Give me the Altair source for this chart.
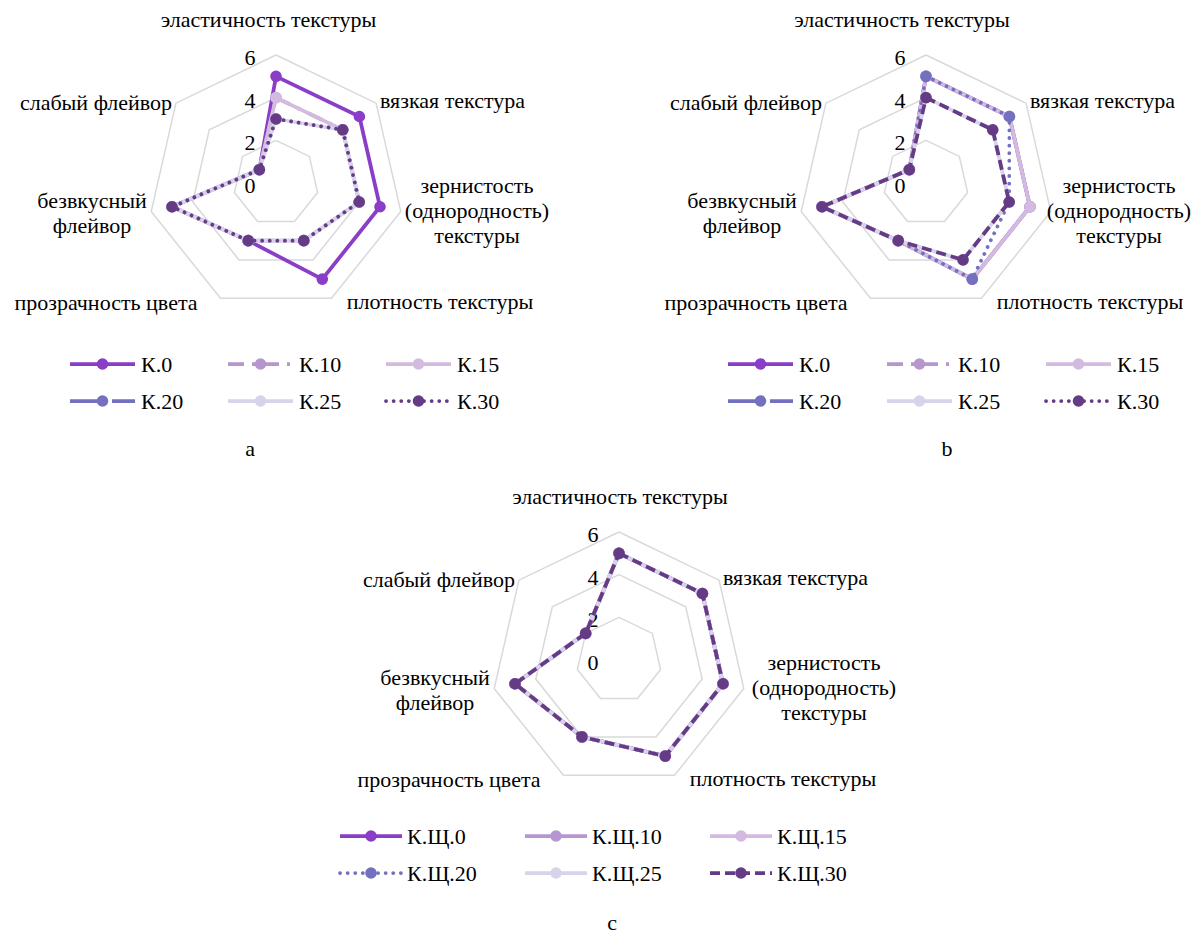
import math
import altair as alt
import pandas as pd

# ---------------- data ----------------
category_lines = [
    ["эластичность текстуры"],
    ["вязкая текстура"],
    ["зернистость", "(однородность)", "текстуры"],
    ["плотность текстуры"],
    ["прозрачность цвета"],
    ["безвкусный", "флейвор"],
    ["слабый флейвор"],
]
tick_values = [0, 2, 4, 6]

series_ab = ["К.0", "К.10", "К.15", "К.20", "К.25", "К.30"]
series_c = ["К.Щ.0", "К.Щ.10", "К.Щ.15", "К.Щ.20", "К.Щ.25", "К.Щ.30"]

values_a = [
    [5, 5, 5, 5, 3, 5, 1],   # К.0
    [4, 4, 4, 3, 3, 5, 1],   # К.10
    [4, 4, 4, 3, 3, 5, 1],   # К.15
    [3, 4, 4, 3, 3, 5, 1],   # К.20
    [3, 4, 4, 3, 3, 5, 1],   # К.25
    [3, 4, 4, 3, 3, 5, 1],   # К.30
]
values_b = [
    [5, 5, 5, 5, 3, 5, 1],   # К.0
    [5, 5, 5, 5, 3, 5, 1],   # К.10
    [5, 5, 5, 5, 3, 5, 1],   # К.15
    [5, 5, 4, 5, 3, 5, 1],   # К.20
    [4, 4, 4, 4, 3, 5, 1],   # К.25
    [4, 4, 4, 4, 3, 5, 1],   # К.30
]
values_c = [
    [5, 5, 5, 5, 4, 5, 2],   # К.Щ.0
    [5, 5, 5, 5, 4, 5, 2],   # К.Щ.10
    [5, 5, 5, 5, 4, 5, 2],   # К.Щ.15
    [5, 5, 5, 5, 4, 5, 2],   # К.Щ.20
    [5, 5, 5, 5, 4, 5, 2],   # К.Щ.25
    [5, 5, 5, 5, 4, 5, 2],   # К.Щ.30
]
captions = ["a", "b", "c"]

# ---------------- styles / layout ----------------
colors = ["#8a3dc7", "#b795cf", "#d3badf", "#7371bf", "#d7d3eb", "#653b85"]
DASH = {
    "solid": None,
    "longdashdot": [16, 8, 3, 8],
    "longdash": [32, 10],
    "dash": [10, 5],
    "dot": [0.1, 7.5],
}
plot_styles = {
    "a": ["solid", "longdashdot", "solid", "dot", "solid", "dot"],
    "b": ["solid", "longdashdot", "solid", "dot", "solid", "dash"],
    "c": ["solid", "solid", "solid", "dot", "solid", "dash"],
}
legend_styles = {
    "a": ["solid", "longdashdot", "solid", "longdash", "solid", "dot"],
    "b": ["solid", "longdashdot", "solid", "longdash", "solid", "dot"],
    "c": ["solid", "solid", "solid", "dot", "solid", "dash"],
}

W, H = 1185, 927
FONT = "'Liberation Serif', 'Times New Roman', 'DejaVu Serif', serif"
FS = 22
LW = 3.75
MS = 135
UNIT = 128 / 6.0
centers = {"a": (276, 183), "b": (926, 183), "c": (619, 660)}
title_dx = {"a": -7.5, "b": -24, "c": 1}
grain_dx = {"a": 201, "b": 193, "c": 205}
# (dx, dy of first baseline, align) per category, relative to panel centre
label_pos = [
    ("title", -156, "center"),
    (104, -75, "left"),
    ("grain", 10, "center"),
    (164, 126, "center"),
    (-170, 127, "center"),
    (-184, 25, "center"),
    (-180, -73, "center"),
]
LINE_H = 25
legend_origin = {"a": (70, 364), "b": (728, 364), "c": (340, 836)}
legend_pitch = {"a": 158, "b": 159, "c": 185}
legend_len = {"a": 65, "b": 65, "c": 62}
legend_text_dx = {"a": 71, "b": 71, "c": 67}
LEG_ROW = 37
caption_pos = {"a": (250, 456), "b": (947, 456), "c": (612, 930)}

panels = {
    "a": (series_ab, values_a),
    "b": (series_ab, values_b),
    "c": (series_c, values_c),
}
N = len(category_lines)


def polar(p, v, k):
    cx, cy = centers[p]
    th = 2 * math.pi * k / N
    return cx + v * UNIT * math.sin(th), cy - v * UNIT * math.cos(th)


X = lambda f="x": alt.X(f"{f}:Q", scale=alt.Scale(domain=[8, 8 + W], zero=False, nice=False), axis=None)
Y = lambda f="y": alt.Y(f"{f}:Q", scale=alt.Scale(domain=[8, 8 + H], zero=False, nice=False, reverse=True), axis=None)

layers = []

# grid rings
grid_rows = []
for p in panels:
    for r in tick_values[1:]:
        for k in range(N + 1):
            x, y = polar(p, r, k % N)
            grid_rows.append({"x": x, "y": y, "gid": f"{p}{r}", "ord": k})
layers.append(
    alt.Chart(pd.DataFrame(grid_rows)).mark_line(color="#d9d9d9", strokeWidth=1.5)
    .encode(x=X(), y=Y(), detail="gid:N", order="ord:Q")
)

# tick labels
tick_rows = []
for p in panels:
    cx, cy = centers[p]
    for t in tick_values:
        tick_rows.append({"x": cx - 20.5, "y": cy - t * UNIT + 10, "t": str(t)})
layers.append(
    alt.Chart(pd.DataFrame(tick_rows)).mark_text(font=FONT, fontSize=FS, color="#000000",
                                                 align="right", baseline="alphabetic")
    .encode(x=X(), y=Y(), text="t:N")
)

# series
for p, (names, vals) in panels.items():
    for i, name in enumerate(names):
        rows = []
        for k in range(N + 1):
            v = vals[i][k % N]
            x, y = polar(p, v, k % N)
            rows.append({"x": x, "y": y, "ord": k, "series": name, "value": v})
        df = pd.DataFrame(rows)
        style = plot_styles[p][i]
        kw = dict(color=colors[i], strokeWidth=LW)
        if DASH[style] is not None:
            kw["strokeDash"] = DASH[style]
            kw["strokeCap"] = "round" if style == "dot" else "butt"
        layers.append(alt.Chart(df).mark_line(**kw).encode(x=X(), y=Y(), order="ord:Q"))
        layers.append(
            alt.Chart(df[df["ord"] < N]).mark_circle(color=colors[i], size=MS, opacity=1)
            .encode(x=X(), y=Y())
        )

# category labels
lab_rows = []
for p in panels:
    cx, cy = centers[p]
    for k, lines in enumerate(category_lines):
        dx, dy, al = label_pos[k]
        if dx == "title":
            dx = title_dx[p]
        elif dx == "grain":
            dx = grain_dx[p]
        for j, line in enumerate(lines):
            lab_rows.append({"x": cx + dx, "y": cy + dy + j * LINE_H, "t": line, "al": al})
lab_df = pd.DataFrame(lab_rows)
for al in ["left", "center"]:
    layers.append(
        alt.Chart(lab_df[lab_df["al"] == al]).mark_text(font=FONT, fontSize=FS, color="#000000",
                                                        align=al, baseline="alphabetic")
        .encode(x=X(), y=Y(), text="t:N")
    )

# legends
leg_text = []
for p, (names, vals) in panels.items():
    ox, oy = legend_origin[p]
    for i, name in enumerate(names):
        col, row = i % 3, i // 3
        x1 = ox + col * legend_pitch[p]
        x2 = x1 + legend_len[p]
        y = oy + row * LEG_ROW
        style = legend_styles[p][i]
        kw = dict(color=colors[i], strokeWidth=LW)
        if DASH[style] is not None:
            kw["strokeDash"] = DASH[style]
            kw["strokeCap"] = "round" if style == "dot" else "butt"
        df = pd.DataFrame([{"x": x1, "x2": x2, "y": y, "xm": (x1 + x2) / 2}])
        layers.append(alt.Chart(df).mark_rule(**kw).encode(x=X(), x2="x2:Q", y=Y()))
        layers.append(alt.Chart(df).mark_circle(color=colors[i], size=MS, opacity=1)
                      .encode(x=X("xm"), y=Y()))
        leg_text.append({"x": x1 + legend_text_dx[p], "y": y + 8, "t": name})
layers.append(
    alt.Chart(pd.DataFrame(leg_text)).mark_text(font=FONT, fontSize=FS, color="#000000",
                                                align="left", baseline="alphabetic")
    .encode(x=X(), y=Y(), text="t:N")
)

# captions
cap_rows = [{"x": caption_pos[p][0], "y": caption_pos[p][1], "t": c} for p, c in zip(panels, captions)]
layers.append(
    alt.Chart(pd.DataFrame(cap_rows)).mark_text(font=FONT, fontSize=FS, color="#000000",
                                                align="center", baseline="alphabetic")
    .encode(x=X(), y=Y(), text="t:N")
)

chart = alt.layer(*layers).properties(
    width=W, height=H, padding=0, autosize=alt.AutoSizeParams(type="none")
).configure_view(stroke=None)

chart.save("out.html", embed_options={"renderer": "svg", "actions": False})
